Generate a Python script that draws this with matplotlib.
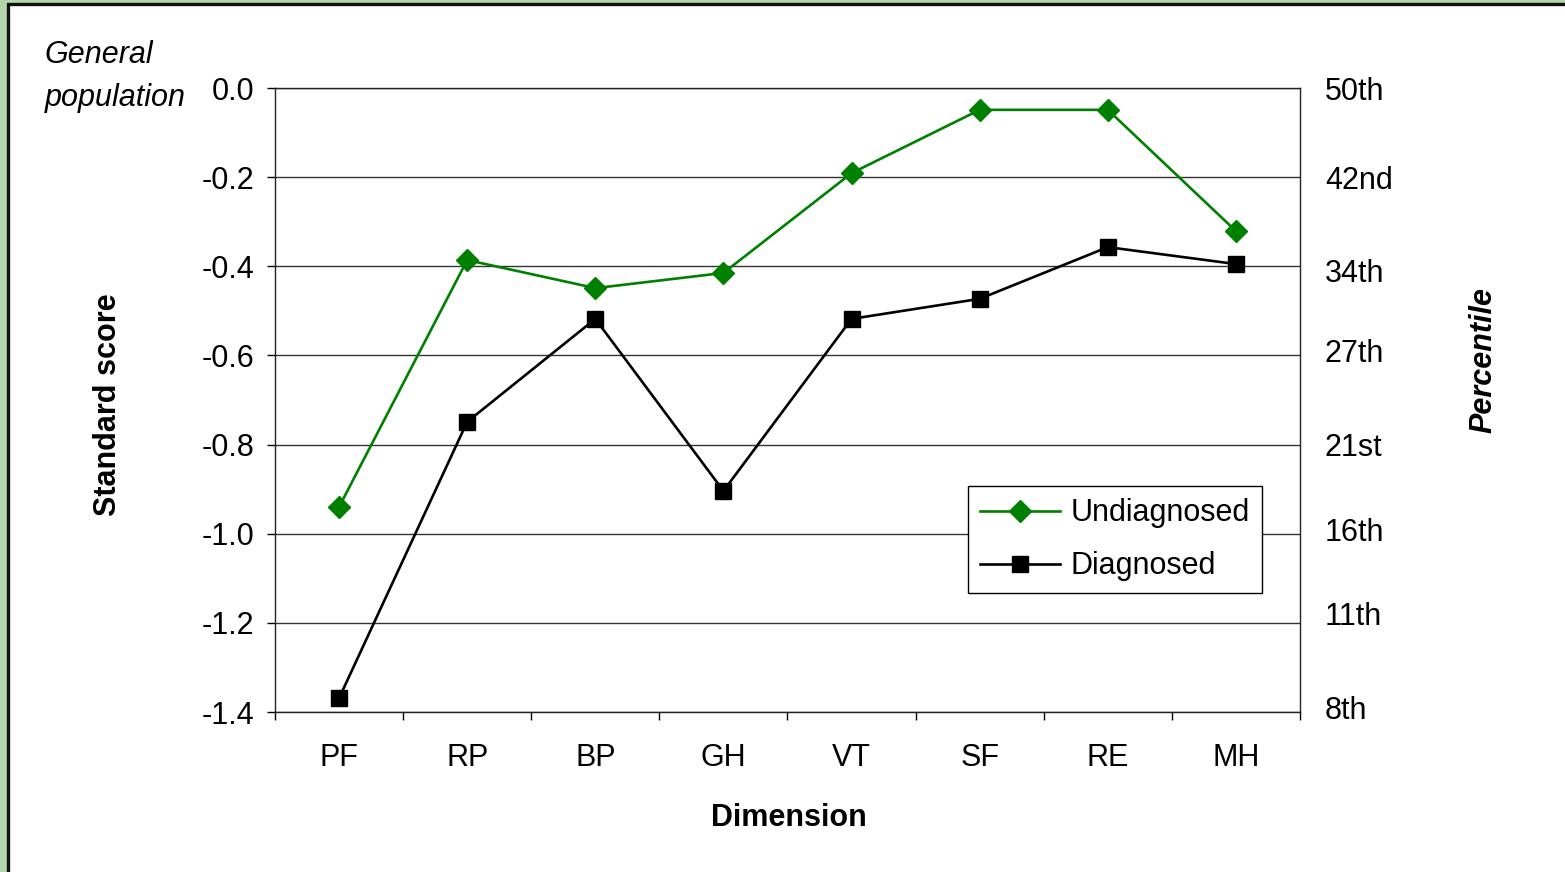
import matplotlib
matplotlib.use('Agg')
import matplotlib.pyplot as plt
from matplotlib.patches import Rectangle
from matplotlib.ticker import FixedLocator, NullFormatter
import numpy as np

plt.rcParams['font.family'] = ['Liberation Sans', 'DejaVu Sans']

dimensions = ['PF', 'RP', 'BP', 'GH', 'VT', 'SF', 'RE', 'MH']
undiagnosed = [-0.94, -0.386, -0.449, -0.415, -0.191, -0.049, -0.049, -0.321]
diagnosed = [-1.369, -0.749, -0.518, -0.904, -0.518, -0.473, -0.357, -0.395]

score_ticks = [0.0, -0.2, -0.4, -0.6, -0.8, -1.0, -1.2, -1.4]
pct_labels = ['50th', '42nd', '34th', '27th', '21st', '16th', '11th', '8th']
pct_positions = [0.0, -0.2, -0.41, -0.59, -0.8, -0.99, -1.18, -1.39]

FS = 22
W, H = 1565, 872
fig = plt.figure(figsize=(W / 100, H / 100), dpi=100)
fig.patch.set_facecolor('#b3d5ab')

# white panel with a dark frame, running off the right and bottom edges
panel = Rectangle((8 / W, -0.05), 1.1, 1 - 4 / H + 0.05, transform=fig.transFigure,
                  facecolor='white', edgecolor='#111111', linewidth=2.4, zorder=-10)
fig.patches.append(panel)

ax = fig.add_axes([275 / W, 1 - 712 / H, 1025 / W, 624 / H])
ax.set_facecolor('none')
x = np.arange(len(dimensions))

ax.plot(x, undiagnosed, color='#008000', lw=1.9, marker='D', markersize=11.5,
        markeredgecolor='#008000', label='Undiagnosed', zorder=3)
ax.plot(x, diagnosed, color='black', lw=1.9, marker='s', markersize=12,
        label='Diagnosed', zorder=3)

ax.set_xlim(-0.5, len(dimensions) - 0.5)
ax.set_ylim(-1.4, 0.0)
ax.set_yticks(score_ticks)
ax.set_yticklabels([f'{v:.1f}' for v in score_ticks])
ax.yaxis.grid(True, color='#333333', lw=1.0)
ax.set_axisbelow(True)

ax.set_xticks(x)
ax.set_xticklabels(dimensions)
ax.xaxis.set_minor_locator(FixedLocator(np.arange(-0.5, len(dimensions), 1.0)))
ax.xaxis.set_minor_formatter(NullFormatter())
ax.tick_params(axis='x', which='major', length=0, pad=22, labelsize=FS)
ax.tick_params(axis='x', which='minor', length=6, width=1.0, direction='out')
ax.tick_params(axis='y', length=6, width=1.0, direction='out', pad=9, labelsize=FS)
for side in ['left', 'right', 'top', 'bottom']:
    ax.spines[side].set_linewidth(1.0)
    ax.spines[side].set_color('#222222')

ax2 = ax.twinx()
ax2.set_ylim(ax.get_ylim())
ax2.set_yticks(pct_positions)
ax2.set_yticklabels(pct_labels)
ax2.tick_params(axis='y', length=0, pad=18, labelsize=FS)
for side in ['left', 'right', 'top', 'bottom']:
    ax2.spines[side].set_visible(False)

leg = ax.legend(loc='upper left', bbox_to_anchor=(0.676, 0.362), fontsize=FS,
                frameon=True, fancybox=False, framealpha=1, edgecolor='black',
                borderaxespad=0, borderpad=0.4, handlelength=2.6,
                labelspacing=0.75, handletextpad=0.35)
leg.get_frame().set_linewidth(1.0)

fig.text(108 / W, 1 - 405 / H, 'Standard score', rotation=90, ha='center',
         va='center', fontsize=FS, fontweight='bold')
fig.text(1483 / W, 1 - 360 / H, 'Percentile', rotation=90, ha='center',
         va='center', fontsize=FS, fontweight='bold', style='italic')
fig.text(789 / W, 1 - 818 / H, 'Dimension', ha='center', va='center',
         fontsize=FS, fontweight='bold')
fig.text(45 / W, 1 - 55 / H, 'General', ha='left', va='center',
         fontsize=FS, style='italic')
fig.text(45 / W, 1 - 98 / H, 'population', ha='left', va='center',
         fontsize=FS, style='italic')

fig.savefig('out.png', dpi=100, facecolor=fig.get_facecolor())
